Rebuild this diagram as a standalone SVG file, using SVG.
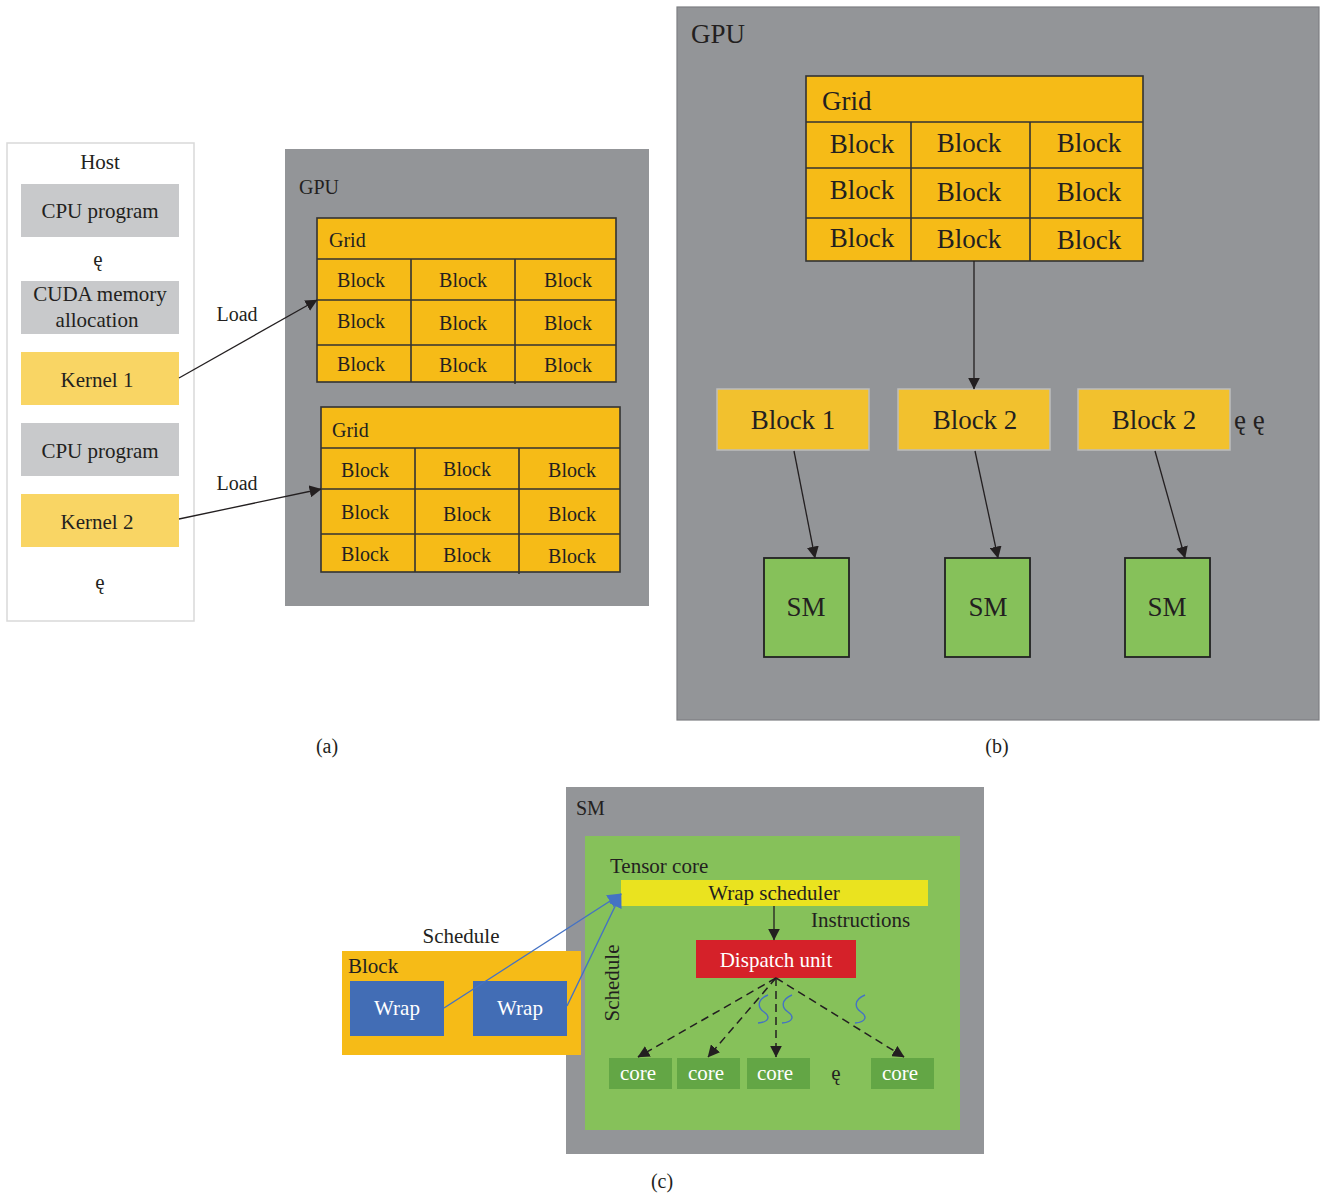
<svg xmlns="http://www.w3.org/2000/svg" width="1324" height="1196" viewBox="0 0 1324 1196">
  <defs>
    <style>
      text { font-family: "Liberation Serif", "DejaVu Serif", serif; fill: #231f20; }
      .t21 { font-size: 21px; }
      .t20 { font-size: 20px; }
      .t27 { font-size: 27px; }
      .mid { text-anchor: middle; }
      .wht { fill: #ffffff; }
      .gray { fill: #c8c9cb; }
      .kern { fill: #f9d564; }
      .gpu { fill: #939598; }
      .cell { fill: #f6bb17; stroke: #333333; stroke-width: 1.6; }
      .gl { stroke: #333333; stroke-width: 1.6; fill: none; }
      .blk { fill: #f2c12e; stroke: #bdbdbd; stroke-width: 1.5; }
      .sm { fill: #86c15a; stroke: #222222; stroke-width: 1.8; }
      .core { fill: #63a645; }
      .arr { stroke: #231f20; stroke-width: 1.3; fill: none; }
      .dash { stroke: #231f20; stroke-width: 1.5; fill: none; stroke-dasharray: 8 5; }
      .blue { stroke: #4472c4; stroke-width: 1.4; fill: none; }
    </style>
    <marker id="ah" viewBox="0 0 10 10" refX="9.5" refY="5" markerWidth="12" markerHeight="12" markerUnits="userSpaceOnUse" orient="auto">
      <path d="M0,0 L10,5 L0,10 z" fill="#231f20"/>
    </marker>
    <marker id="ahb" viewBox="0 0 10 10" refX="9.5" refY="5" markerWidth="14" markerHeight="14" markerUnits="userSpaceOnUse" orient="auto">
      <path d="M0,0 L10,5 L0,10 z" fill="#4472c4"/>
    </marker>
  </defs>

  <!-- ===== (a) Host side ===== -->
  <g id="host">
    <rect x="7" y="143" width="187" height="478" fill="#ffffff" stroke="#d9d9d9" stroke-width="1.5"/>
    <text class="t21 mid" x="100" y="169">Host</text>
  </g>
  <g id="cpu-program-1">
    <rect class="gray" x="21" y="184" width="158" height="53"/>
    <text class="t21 mid" x="100" y="218">CPU program</text>
  </g>
  <text class="t21 mid" x="98" y="266">ę</text>
  <g id="cuda-memory">
    <rect class="gray" x="21" y="281" width="158" height="53"/>
    <text class="t21 mid" x="100" y="301">CUDA memory</text>
    <text class="t21 mid" x="97" y="327">allocation</text>
  </g>
  <g id="kernel-1">
    <rect class="kern" x="21" y="352" width="158" height="53"/>
    <text class="t21 mid" x="97" y="387">Kernel 1</text>
  </g>
  <g id="cpu-program-2">
    <rect class="gray" x="21" y="423" width="158" height="53"/>
    <text class="t21 mid" x="100" y="458">CPU program</text>
  </g>
  <g id="kernel-2">
    <rect class="kern" x="21" y="494" width="158" height="53"/>
    <text class="t21 mid" x="97" y="529">Kernel 2</text>
  </g>
  <text class="t21 mid" x="100" y="589">ę</text>

  <!-- ===== (a) GPU with two grids ===== -->
  <g id="gpu-a">
    <rect class="gpu" x="285" y="149" width="364" height="457"/>
    <text class="t20" x="299" y="194">GPU</text>
  </g>
  <g id="grid-a1">
    <rect class="cell" x="317" y="218" width="299" height="164"/>
    <path class="gl" d="M317,259 H616 M317,300 H616 M317,345 H616 M411,259 V382 M515,259 V384"/>
    <text class="t20" x="329" y="247">Grid</text>
    <text class="t20 mid" x="361" y="287">Block</text>
    <text class="t20 mid" x="463" y="287">Block</text>
    <text class="t20 mid" x="568" y="287">Block</text>
    <text class="t20 mid" x="361" y="328">Block</text>
    <text class="t20 mid" x="463" y="330">Block</text>
    <text class="t20 mid" x="568" y="330">Block</text>
    <text class="t20 mid" x="361" y="371">Block</text>
    <text class="t20 mid" x="463" y="372">Block</text>
    <text class="t20 mid" x="568" y="372">Block</text>
  </g>
  <g id="grid-a2">
    <rect class="cell" x="321" y="407" width="299" height="165"/>
    <path class="gl" d="M321,448 H620 M321,489 H620 M321,534 H620 M415,448 V572 M519,448 V574"/>
    <text class="t20" x="332" y="437">Grid</text>
    <text class="t20 mid" x="365" y="477">Block</text>
    <text class="t20 mid" x="467" y="476">Block</text>
    <text class="t20 mid" x="572" y="477">Block</text>
    <text class="t20 mid" x="365" y="519">Block</text>
    <text class="t20 mid" x="467" y="521">Block</text>
    <text class="t20 mid" x="572" y="521">Block</text>
    <text class="t20 mid" x="365" y="561">Block</text>
    <text class="t20 mid" x="467" y="562">Block</text>
    <text class="t20 mid" x="572" y="563">Block</text>
  </g>

  <!-- ===== (b) GPU scheduling blocks to SMs ===== -->
  <g id="gpu-b">
    <rect class="gpu" x="677" y="7" width="642" height="713" stroke="#7d7f82" stroke-width="1.2"/>
    <text class="t27" x="691" y="43">GPU</text>
  </g>
  <g id="grid-b">
    <rect class="cell" x="806" y="76" width="337" height="185"/>
    <path class="gl" d="M806,122 H1143 M806,168 H1143 M806,218 H1143 M911,122 V261 M1030,122 V261"/>
    <text class="t27" x="822" y="110">Grid</text>
    <text class="t27 mid" x="862" y="153">Block</text>
    <text class="t27 mid" x="969" y="152">Block</text>
    <text class="t27 mid" x="1089" y="152">Block</text>
    <text class="t27 mid" x="862" y="199">Block</text>
    <text class="t27 mid" x="969" y="201">Block</text>
    <text class="t27 mid" x="1089" y="201">Block</text>
    <text class="t27 mid" x="862" y="247">Block</text>
    <text class="t27 mid" x="969" y="248">Block</text>
    <text class="t27 mid" x="1089" y="249">Block</text>
  </g>
  <g id="block-1">
    <rect class="blk" x="717" y="389" width="152" height="61"/>
    <text class="t27 mid" x="793" y="429">Block 1</text>
  </g>
  <g id="block-2a">
    <rect class="blk" x="898" y="389" width="152" height="61"/>
    <text class="t27 mid" x="975" y="429">Block 2</text>
  </g>
  <g id="block-2b">
    <rect class="blk" x="1078" y="389" width="152" height="61"/>
    <text class="t27 mid" x="1154" y="429">Block 2</text>
  </g>
  <text class="t27" x="1234" y="429">ę ę</text>
  <g id="sm-1">
    <rect class="sm" x="764" y="558" width="85" height="99"/>
    <text class="t27 mid" x="806" y="616">SM</text>
  </g>
  <g id="sm-2">
    <rect class="sm" x="945" y="558" width="85" height="99"/>
    <text class="t27 mid" x="988" y="616">SM</text>
  </g>
  <g id="sm-3">
    <rect class="sm" x="1125" y="558" width="85" height="99"/>
    <text class="t27 mid" x="1167" y="616">SM</text>
  </g>

  <!-- ===== (c) SM internals ===== -->
  <g id="sm-c">
    <rect class="gpu" x="566" y="787" width="418" height="367"/>
    <text class="t20" x="576" y="815">SM</text>
    <rect fill="#86c15a" x="585" y="836" width="375" height="294"/>
    <text class="t21" x="610" y="873">Tensor core</text>
    <text class="t21" x="811" y="927">Instructions</text>
    <text class="t21 mid" transform="translate(619,983) rotate(-90)">Schedule</text>
  </g>
  <g id="wrap-scheduler">
    <rect fill="#eae31f" x="621" y="880" width="307" height="26"/>
    <text class="t21 mid" x="774" y="900">Wrap scheduler</text>
  </g>
  <g id="dispatch-unit">
    <rect fill="#d52129" x="696" y="940" width="160" height="38"/>
    <text class="t21 mid wht" x="776" y="967">Dispatch unit</text>
  </g>
  <g id="core-1">
    <rect class="core" x="609" y="1058" width="63" height="31"/>
    <text class="t21 mid wht" x="638" y="1080">core</text>
  </g>
  <g id="core-2">
    <rect class="core" x="677" y="1058" width="63" height="31"/>
    <text class="t21 mid wht" x="706" y="1080">core</text>
  </g>
  <g id="core-3">
    <rect class="core" x="747" y="1058" width="63" height="31"/>
    <text class="t21 mid wht" x="775" y="1080">core</text>
  </g>
  <text class="t21 mid" x="836" y="1080">ę</text>
  <g id="core-4">
    <rect class="core" x="871" y="1058" width="63" height="31"/>
    <text class="t21 mid wht" x="900" y="1080">core</text>
  </g>

  <g id="block-c">
    <text class="t21 mid" x="461" y="943">Schedule</text>
    <rect fill="#f6bb17" x="342" y="951" width="239" height="104"/>
    <text class="t21" x="348" y="973">Block</text>
    <rect fill="#426db5" x="350" y="981" width="94" height="55"/>
    <text class="t21 mid wht" x="397" y="1015">Wrap</text>
    <rect fill="#426db5" x="473" y="981" width="94" height="55"/>
    <text class="t21 mid wht" x="520" y="1015">Wrap</text>
  </g>

  <!-- panel captions -->
  <text class="t20 mid" x="327" y="753">(a)</text>
  <text class="t20 mid" x="997" y="753">(b)</text>
  <text class="t20 mid" x="662" y="1188">(c)</text>

  <!-- ===== connectors ===== -->
  <g id="connectors">
    <line class="arr" x1="179" y1="378" x2="317" y2="300" marker-end="url(#ah)"/>
    <line class="arr" x1="179" y1="519" x2="321" y2="489" marker-end="url(#ah)"/>
    <text class="t20 mid" x="237" y="321">Load</text>
    <text class="t20 mid" x="237" y="490">Load</text>

    <line class="arr" x1="974" y1="261" x2="974" y2="389" marker-end="url(#ah)"/>
    <line class="arr" x1="794" y1="451" x2="815" y2="558" marker-end="url(#ah)"/>
    <line class="arr" x1="975" y1="451" x2="998" y2="558" marker-end="url(#ah)"/>
    <line class="arr" x1="1155" y1="451" x2="1185" y2="558" marker-end="url(#ah)"/>

    <line class="arr" x1="774" y1="906" x2="774" y2="940" marker-end="url(#ah)"/>
    <line class="dash" x1="776" y1="978" x2="638" y2="1057" marker-end="url(#ah)"/>
    <line class="dash" x1="776" y1="978" x2="708" y2="1057" marker-end="url(#ah)"/>
    <line class="dash" x1="776" y1="978" x2="776" y2="1057" marker-end="url(#ah)"/>
    <line class="dash" x1="776" y1="978" x2="904" y2="1057" marker-end="url(#ah)"/>

    <line class="blue" x1="444" y1="1008" x2="621" y2="894" marker-end="url(#ahb)"/>
    <line class="blue" x1="567" y1="1006" x2="621" y2="894" marker-end="url(#ahb)"/>

    <!-- wavy thread marks -->
    <path class="blue" d="M768,995 C756,1000 758,1008 764,1012 C770,1016 770,1022 758,1023"/>
    <path class="blue" d="M792,995 C780,1000 782,1008 788,1012 C794,1016 794,1022 782,1023"/>
    <path class="blue" d="M865,995 C853,1000 855,1008 861,1012 C867,1016 867,1022 855,1023"/>
  </g>
</svg>
